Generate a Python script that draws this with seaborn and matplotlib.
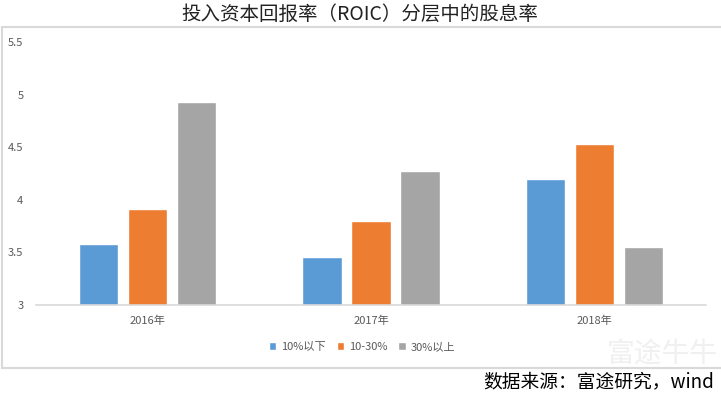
import numpy as np
import pandas as pd
import matplotlib
matplotlib.use("Agg")
import matplotlib.pyplot as plt
import seaborn as sns
from matplotlib.lines import Line2D

sns.set_style("white")
plt.rcParams['font.family'] = ['Noto Sans CJK SC', 'DejaVu Sans']

# data
years = ['2016年', '2017年', '2018年']
groups = ['10%以下', '10-30%', '30%以上']
low = [3.58, 3.46, 4.20]
mid = [3.91, 3.80, 4.53]
high = [4.93, 4.27, 3.55]
colors = ['#5B9BD5', '#ED7D31', '#A5A5A5']

df = pd.DataFrame({
    'year': years * 3,
    'group': np.repeat(groups, len(years)),
    'rate': low + mid + high,
})

W, H = 721, 397
fig = plt.figure(figsize=(W / 100, H / 100), dpi=100)
ax = fig.add_axes([36 / W, 1 - 305 / H, 670 / W, 263 / H])

sns.barplot(data=df, x='year', y='rate', hue='group', palette=colors,
            saturation=1, width=0.66, gap=0.2, errorbar=None, ax=ax)

ax.set_ylim(3, 5.5)
ax.set_xlim(-0.5, 2.5)
ax.set_yticks([3, 3.5, 4, 4.5, 5, 5.5])
ax.set_yticklabels(['3', '3.5', '4', '4.5', '5', '5.5'])
ax.set_xlabel('')
ax.set_ylabel('')
for s in ['top', 'right', 'left']:
    ax.spines[s].set_visible(False)
ax.spines['bottom'].set_color('#D9D9D9')
ax.spines['bottom'].set_linewidth(1.2)
ax.tick_params(axis='both', length=0, labelsize=8, labelcolor='#595959')
ax.tick_params(axis='y', pad=9)
ax.tick_params(axis='x', pad=8)

handles, labels = ax.get_legend_handles_labels()
ax.get_legend().remove()
fig.legend(handles, labels, loc='center', bbox_to_anchor=(362 / W, 1 - 347 / H),
           ncol=3, frameon=False, fontsize=8, handlelength=0.7, handleheight=0.7,
           handletextpad=0.4, columnspacing=1.0, labelcolor='#595959')

# chart frame
fc = '#D9D9D9'
fig.add_artist(Line2D([2 / W, 1], [1 - 27 / H, 1 - 27 / H], color=fc, lw=1.5))
fig.add_artist(Line2D([2 / W, 2 / W], [1 - 27 / H, 1 - 368 / H], color=fc, lw=1.5))
fig.add_artist(Line2D([2 / W, 1], [1 - 368 / H, 1 - 368 / H], color=fc, lw=1.5))

fig.text(360 / W, 1 - 14 / H, '投入资本回报率（ROIC）分层中的股息率',
         ha='center', va='center', fontsize=14, color='#222222')
fig.text(662 / W, 1 - 354 / H, '富途牛牛', ha='center', va='center',
         fontsize=20, color='#F0F0F0', zorder=0)
fig.text(714 / W, 1 - 382 / H, '数据来源：富途研究，wind', ha='right', va='center',
         fontsize=13.5, style='italic', color='black')

fig.savefig('out.png', dpi=100)
